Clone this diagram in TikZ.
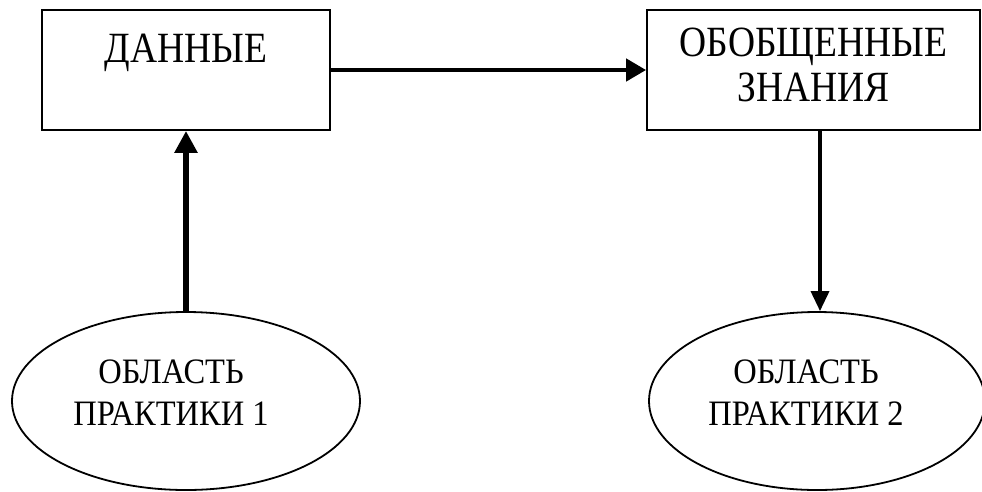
\documentclass[tikz,border=0pt]{standalone}
\usepackage{fontspec}
\setmainfont{Liberation Serif}
\usetikzlibrary{shapes.geometric,arrows.meta}
\newcommand{\tallbox}[2]{\scalebox{1}[#1]{#2}}
\tikzset{
  boxnode/.style={draw=black, line width=1.8pt, rectangle, inner sep=0pt,
    font=\fontsize{37.5}{39}\selectfont},
  ellnode/.style={draw=black, line width=1.8pt, ellipse, inner sep=0pt},
  elltext/.style={font=\fontsize{32.5}{38.2}\selectfont, inner sep=0pt},
  conn/.style={draw=black},
}
\begin{document}
\begin{tikzpicture}[x=1pt,y=-1pt]
\useasboundingbox (0,0) rectangle (982,491);
% boxes
\node[boxnode, minimum width=288pt, text height=52pt, text depth=68pt] (b1) at (186,70) {\tallbox{1.15}{ДАННЫЕ}};
\node[boxnode, minimum width=333pt, minimum height=120pt] (b2) at (813.5,70)
  {\tallbox{1.15}{\begin{tabular}{@{}c@{}}ОБОБЩЕННЫЕ\\ЗНАНИЯ\end{tabular}}};
% ellipses
\node[ellnode, minimum width=348pt, minimum height=178pt,
  label={[elltext, xshift=-15pt, yshift=5.4pt]center:\tallbox{1.1}{\begin{tabular}{@{}c@{}}ОБЛАСТЬ\\ПРАКТИКИ 1\end{tabular}}}] (e1) at (186,401) {};
\node[ellnode, minimum width=336pt, minimum height=178pt,
  label={[elltext, xshift=-11pt, yshift=5.4pt]center:\tallbox{1.1}{\begin{tabular}{@{}c@{}}ОБЛАСТЬ\\ПРАКТИКИ 2\end{tabular}}}] (e2) at (817,401) {};
% connectors
\draw[conn, line width=4.5pt, -{Triangle[length=20pt,width=22pt]}] (b1) -- (b2);
\draw[conn, line width=6pt, -{Triangle[length=22pt,width=22pt]}] (e1.north) -- (e1.north |- b1.south);
\draw[conn, line width=3.5pt, -{Triangle[length=20pt,width=18pt]}] ([xshift=3pt]b2.south -| e2.north) -- ([xshift=3pt]e2.north);
\end{tikzpicture}
\end{document}
